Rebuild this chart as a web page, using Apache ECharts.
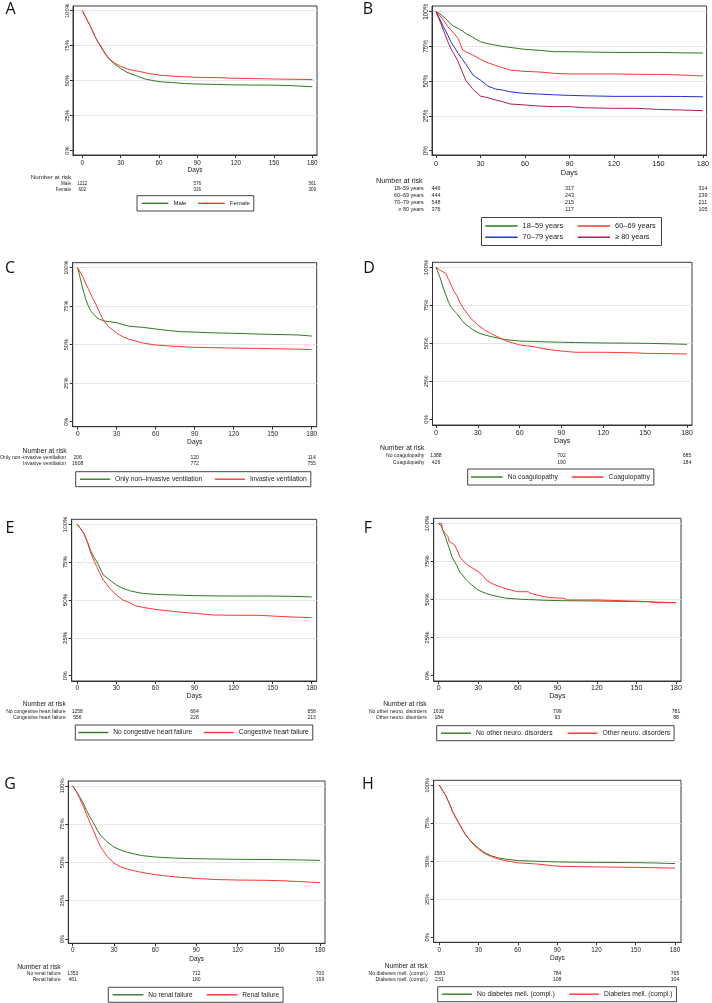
<!DOCTYPE html>
<html><head><meta charset="utf-8">
<script src="https://cdn.jsdelivr.net/npm/echarts@6/dist/echarts.min.js"></script>
<style>html,body{margin:0;padding:0;background:#fff}#c{width:712px;height:1003px}</style>
</head><body><div id="c"></div>
<script>
// ---------------- DATA ----------------
const dayTicks = [0, 30, 60, 90, 120, 150, 180];
const pctTicks = [0, 25, 50, 75, 100];
const riskDays = [0, 90, 180];

// A: sex
const daysA = [0,2,4,6,8,10,12,14,16,18,20,22,25,30,35,40,45,50,60,70,80,90,105,120,135,150,165,180];
const survMale   = [100,96.5,93,89.5,85.5,81.5,78,75,72,69,66.5,64.5,62,58.8,56,54.3,52.5,51,49.3,48.7,48,47.6,47.3,47,46.9,46.8,46.4,45.7];
const survFemale = [100,96.5,93,89.5,85.5,81.5,78,75.5,72.5,69.5,67,65,62.8,60.2,58.5,57.3,56.6,55.5,54,53.3,52.8,52.4,52.2,51.7,51.5,51.2,51,50.8];
const namesA = ['Male', 'Female'];
const riskA = [[1212, 576, 561], [602, 316, 309]];

// B: age groups
const daysB = [0,2,5,8,10,12,15,18,20,25,30,35,40,45,50,60,70,80,90,100,120,135,150,165,180];
const surv1859 = [100,99,96.4,93.5,91,89.5,88,86,84.4,81.5,78.4,77,76,75,74.3,72.9,72.2,71.2,71.2,71,70.7,70.7,70.7,70.4,70.3];
const surv6069 = [100,98,94,89.2,87,84.4,80.8,72.4,71.2,68.8,65.7,63.3,61.4,59.7,58,57.1,56.6,55.6,55.2,55.2,55.2,55,54.9,54.5,53.7];
const surv7079 = [100,96,89.2,83.2,78.4,75,70,65.5,62.4,54.4,50.8,46.5,44.4,43.6,42.4,41.2,40.7,40.2,39.8,39.5,39.1,39.1,39.1,39,38.8];
const surv80   = [100,95,86.8,78.4,73.6,70,64,56,50.8,44.1,39.3,38.1,36.5,35.3,33.6,32.9,32.1,31.7,31.7,30.9,30.5,30.5,29.7,29.3,28.8];
const namesB = ['18–59 years', '60–69 years', '70–79 years', '≥ 80 years'];
const riskB = [[446, 317, 314], [444, 243, 239], [548, 215, 211], [376, 117, 105]];

// C: ventilation
const daysC = [0,2,4,6,8,10,12,15,17,20,24,30,35,39,45,50,60,70,80,90,100,120,140,150,170,180];
const survNonInv = [100,93,86,80,75.5,72,70,67.5,66.5,65.5,65,64.3,63,62.1,61.6,61.3,60.2,59.2,58.4,58.2,57.8,57.4,56.9,56.7,56.3,55.6];
const survInv    = [100,97,94,90,86.5,83,79.5,74.5,70.5,65.5,61.5,57.6,55,53.7,52.3,51.1,49.8,49.2,48.7,48.3,48.1,47.8,47.6,47.4,47.1,46.8];
const namesC = ['Only non–invasive ventilation', 'Invasive ventilation'];
const riskC = [[206, 120, 114], [1608, 772, 755]];

// D: coagulopathy
const daysD = [0,3,5,7,9,11,13,15,17,20,25,30,35,40,45,50,60,70,80,90,100,120,140,150,165,180];
const survNoCoag = [100,93,87,82,77,73.5,71.5,69.5,67,63.5,59.9,57,55.5,54.3,53.3,52.4,51.5,51.2,50.9,50.7,50.5,50.2,50.1,50,49.7,49.3];
const survCoag   = [100,98,97,96,92,88,84,81.5,77,72.5,66.4,62,58.7,56.1,53.9,51.7,48.9,47.8,46,44.9,44.1,44.1,43.8,43.4,43.2,43];
const namesD = ['No coagulopathy', 'Coagulopathy'];
const riskD = [[1388, 702, 685], [426, 190, 184]];

// E: congestive heart failure
const daysE = [0,3,5,8,10,13,15,18,20,25,30,35,38,40,45,50,60,75,90,105,120,140,150,165,180];
const survNoCHF = [100,96.5,94,88,83,78,75.3,70,66.5,63.2,59.9,57.7,56.8,56.2,55.2,54.4,53.7,53.3,52.9,52.7,52.6,52.6,52.6,52.4,52];
const survCHF   = [100,96.5,94,87.5,81.9,75.5,72,66.5,63.2,57.7,53.3,50,48.9,48.3,46,45.2,43.8,42.3,41.2,40.1,39.9,39.9,39.4,38.8,38.3];
const namesE = ['No congestive heart failure', 'Congestive heart failure'];
const riskE = [[1258, 664, 658], [556, 228, 213]];

// F: other neurological disorders
const daysF = [0,2,3,5,7,8,10,12,14,16,18,20,22,25,30,33,36,40,45,50,55,60,68,70,75,80,85,95,97,120,146,160,165,180];
const survNoNeuro = [100,98,95.6,91.2,86,83.6,78.1,74.8,72,68,66.1,63.9,62,59.5,56.2,55,54,52.9,51.9,51,50.6,50.3,49.9,49.9,49.7,49.5,49.4,49.2,49.2,49,48.7,48.5,48.3,47.9];
const survNeuro   = [100,100,95.6,93.4,91.2,88,87,85.8,82.5,78.1,75.9,74,72.6,71,68.3,66.1,62.8,60.6,58.9,57.3,56.2,55.1,55.1,54,52.9,51.9,51.2,50.8,49.7,49.7,49,48.6,47.9,47.9];
const namesF = ['No other neuro. disorders', 'Other neuro. disorders'];
const riskF = [[1630, 799, 781], [184, 93, 88]];

// G: renal failure
const daysG = [0,3,5,8,10,13,15,18,20,25,30,35,40,45,50,60,75,90,105,120,140,150,165,180];
const survNoRenal = [100,96,93,88,84,79,76,71,68,63.5,60,58,56.5,55.5,54.5,53.5,52.8,52.4,52.2,52,51.9,51.8,51.6,51.3];
const survRenal   = [100,95.5,92,86,81.5,75,71,64.5,60.5,54,49.5,47,45.5,44.5,43.5,42,40.5,39.5,38.8,38.5,38.3,38.1,37.5,36.8];
const namesG = ['No renal failure', 'Renal failure'];
const riskG = [[1353, 712, 700], [461, 180, 169]];

// H: diabetes
const daysH = [0,3,5,8,10,13,15,18,20,25,30,35,40,45,50,60,75,90,105,120,140,150,165,180];
const survNoDiab = [100,96,93,87.5,83,78,75,70.5,67.5,62.5,58.5,55.5,53.5,52.3,51.5,50.5,50,49.6,49.4,49.3,49.2,49.1,48.9,48.5];
const survDiab   = [100,96,93,87.5,83,78,75,70.5,67.5,62,58,55,53,51.5,50.5,49,48.2,46.8,46.5,46.3,46.1,46,45.8,45.5];
const namesH = ['No diabetes mell. (compl.)', 'Diabetes mell. (compl.)'];
const riskH = [[1583, 784, 765], [231, 108, 104]];

// ---------------- STYLE / LAYOUT ----------------
const GREEN = '#2f7a22', RED = '#ff3535', BLUE = '#2232cf', CRIMSON = '#ad1f4d';
const FONT = '"Liberation Sans", Arial, sans-serif';
const INK = '#222';

const panels = [
  { letter: 'A', days: daysA, names: namesA, curves: [survMale, survFemale], colors: [GREEN, RED], risk: riskA,
    L: { box: [73, 6, 317, 155], x0: 82.3, x180: 312.3, y100: 10.7, y0: 150.7, letter: [10.5, 9.5], xFont: 6.3, yFont: 5.5, lblMargin: 5, nameGap: 11.7,
      title: [71, 177, 6.2], rows: [71, [184, 190], 4.6], legend: { box: [137, 195.7, 258, 211], pad: 4.7, lw: 26.7, gap: 11.7, font: 6 } } },
  { letter: 'B', days: daysB, names: namesB, curves: [surv1859, surv6069, surv7079, surv80], colors: [GREEN, RED, BLUE, CRIMSON], risk: riskB,
    L: { box: [432, 6, 709, 155], x0: 436, x180: 705.3, y100: 11.7, y0: 150.7, letter: [368, 9.5], xFont: 7.3, yFont: 6.3, lblMargin: 5.3, nameGap: 14,
      title: [422.7, 181.3, 7.2], rows: [423.7, [188.3, 195.3, 202.3, 209.3], 5.4],
      legend2: { box: [481, 217, 661, 245], rowsY: [226, 237.3], left: 485.3, lw: 32.3, gap: 14.5, font: 7.4 } } },
  { letter: 'C', days: daysC, names: namesC, curves: [survNonInv, survInv], colors: [GREEN, RED], risk: riskC,
    L: { box: [72.7, 262.7, 316.7, 426.7], x0: 77.7, x180: 311.7, y100: 267.7, y0: 421.7, letter: [10, 268.3], xFont: 6.5, yFont: 5.6, lblMargin: 4.1, nameGap: 11.7,
      title: [66.7, 451, 6.8], rows: [66, [457.7, 464], 5.1], legend: { box: [75.7, 471.7, 314, 486.7], pad: 4.3, lw: 30, gap: 12.7, font: 6.74 } } },
  { letter: 'D', days: daysD, names: namesD, curves: [survNoCoag, survCoag], colors: [GREEN, RED], risk: riskD,
    L: { box: [432.5, 262.3, 692, 425], x0: 436, x180: 687, y100: 267.3, y0: 419.3, letter: [369, 268.3], xFont: 7, yFont: 6, lblMargin: 4.2, nameGap: 12.3,
      title: [424.3, 448.3, 6.8], rows: [424.3, [456, 462.3], 5.1], legend: { box: [467.7, 469, 656, 485], pad: 3.3, lw: 31.7, gap: 14, font: 6.7 } } },
  { letter: 'E', days: daysE, names: namesE, curves: [survNoCHF, survCHF], colors: [GREEN, RED], risk: riskE,
    L: { box: [71.7, 519.3, 316.7, 681], x0: 77.3, x180: 311.7, y100: 524.3, y0: 675.7, letter: [10, 528.5], xFont: 6.5, yFont: 6.2, lblMargin: 4.1, nameGap: 11.4,
      title: [65.7, 704, 6.6], rows: [65.7, [711.3, 717.3], 5.0], legend: { box: [75.3, 725, 314.3, 740], pad: 3, lw: 30, gap: 11.7, font: 6.64 } } },
  { letter: 'F', days: daysF, names: namesF, curves: [survNoNeuro, survNeuro], colors: [GREEN, RED], risk: riskF,
    L: { box: [433.7, 518.3, 681, 681], x0: 438.7, x180: 676, y100: 523.3, y0: 675.7, letter: [368, 528.5], xFont: 7, yFont: 6.2, lblMargin: 4, nameGap: 12,
      title: [426.7, 704.3, 6.7], rows: [426.7, [711.3, 718], 5.1], legend: { box: [436.7, 725.7, 678.7, 740.7], pad: 4.3, lw: 30, gap: 15, font: 6.76 } } },
  { letter: 'G', days: daysG, names: namesG, curves: [survNoRenal, survRenal], colors: [GREEN, RED], risk: riskG,
    L: { box: [68.3, 781, 325, 943.3], x0: 72.7, x180: 320, y100: 785.8, y0: 939, letter: [10, 784], xFont: 6.3, yFont: 5.8, lblMargin: 4.2, nameGap: 12.4,
      title: [60.7, 966.7, 6.7], rows: [60.7, [974, 979.7], 5.0], legend: { box: [108.3, 987.3, 284, 1002.3], pad: 4.4, lw: 30.6, gap: 14, font: 6.55 } } },
  { letter: 'H', days: daysH, names: namesH, curves: [survNoDiab, survDiab], colors: [GREEN, RED], risk: riskH,
    L: { box: [433.7, 780.3, 681, 942.3], x0: 439.3, x180: 675, y100: 785.3, y0: 937.3, letter: [368, 784], xFont: 6.3, yFont: 5.8, lblMargin: 5, nameGap: 12,
      title: [427.7, 966, 6.6], rows: [427.7, [974, 979.3], 5.1], legend: { box: [437.7, 986.7, 679.3, 1001.7], pad: 4.3, lw: 30, gap: 14.4, font: 6.7 } } }
];

// ---------------- BUILD ----------------
const chart = echarts.init(document.getElementById('c'), null, { renderer: 'canvas' });
const grid = [], xAxis = [], yAxis = [], series = [], legend = [], graphic = [];

panels.forEach((p, i) => {
  const L = p.L;
  const [bl, bt, br, bb] = L.box;
  const ppd = (L.x180 - L.x0) / 180;
  const ppp = (L.y0 - L.y100) / 100;
  grid.push({ left: bl, top: bt, width: br - bl, height: bb - bt, show: true, borderColor: '#3c3c3c', borderWidth: 1, backgroundColor: '#fff' });
  xAxis.push({
    gridIndex: i, type: 'value',
    min: -(L.x0 - bl) / ppd, max: 180 + (br - L.x180) / ppd,
    axisLine: { onZero: false, lineStyle: { color: '#333', width: 1 } },
    axisTick: { customValues: dayTicks, length: 3, lineStyle: { color: '#333' } },
    axisLabel: { customValues: dayTicks, fontSize: L.xFont, fontFamily: FONT, color: INK, margin: L.lblMargin },
    splitLine: { show: false },
    name: 'Days', nameLocation: 'middle', nameGap: L.nameGap,
    nameTextStyle: { fontSize: L.xFont + 0.2, fontFamily: FONT, color: INK }
  });
  yAxis.push({
    gridIndex: i, type: 'value',
    min: -(bb - L.y0) / ppp, max: 100 + (L.y100 - bt) / ppp,
    axisLine: { onZero: false, lineStyle: { color: '#333', width: 1 } },
    axisTick: { customValues: pctTicks, length: 3, lineStyle: { color: '#333' } },
    axisLabel: { customValues: pctTicks, rotate: 90, formatter: '{value}%', fontSize: L.yFont, fontFamily: FONT, color: INK, margin: 3 },
    splitLine: { show: true, lineStyle: { color: ['rgba(0,0,0,0)', '#e6e6e6', '#e6e6e6', '#e6e6e6', '#e6e6e6'], width: 1 } }
  });
  p.curves.forEach((vals, k) => {
    series.push({
      type: 'line', name: p.names[k], xAxisIndex: i, yAxisIndex: i,
      data: p.days.map((d, j) => [d, vals[j]]),
      symbol: 'none', showSymbol: false, silent: true,
      lineStyle: { color: p.colors[k], width: 1 }, itemStyle: { color: p.colors[k] }
    });
  });
  if (L.legend) {
    const g = L.legend;
    const h = g.box[3] - g.box[1];
    const pv = (h - 9) / 2;
    legend.push({
      left: g.box[0], top: g.box[1], orient: 'horizontal', data: p.names,
      padding: [pv, 4, pv, g.pad], itemWidth: g.lw, itemHeight: 1.4, itemGap: g.gap, icon: 'rect',
      borderColor: '#444', borderWidth: 1, selectedMode: false,
      textStyle: { fontSize: g.font, fontFamily: FONT, color: INK, lineHeight: 9 }
    });
  } else if (L.legend2) {
    const g = L.legend2;
    [[0, 1], [2, 3]].forEach((pair, r) => {
      legend.push({
        left: g.left, top: g.rowsY[r] - 4.5, orient: 'horizontal', data: pair.map(j => p.names[j]),
        padding: 0, itemWidth: g.lw, itemHeight: 1.4, itemGap: g.gap, icon: 'rect', selectedMode: false,
        textStyle: { fontSize: g.font, fontFamily: FONT, color: INK, lineHeight: 9 }
      });
    });
    graphic.push({ type: 'rect', silent: true, shape: { x: g.box[0] + 0.5, y: g.box[1] + 0.5, width: g.box[2] - g.box[0], height: g.box[3] - g.box[1] },
      style: { fill: 'none', stroke: '#444', lineWidth: 1 } });
  }
  graphic.push({ type: 'text', silent: true, x: L.letter[0], y: L.letter[1],
    style: { text: p.letter, fontSize: 16, fontFamily: '"Open Sans", "Noto Sans", sans-serif', fill: '#111', align: 'center', verticalAlign: 'middle' } });
});

chart.setOption({ animation: false, backgroundColor: '#fff', grid, xAxis, yAxis, series, legend, graphic });

// risk table text (x positions via the axis scale)
const riskGraphic = graphic.slice();
panels.forEach((p, i) => {
  const L = p.L;
  riskGraphic.push({ type: 'text', silent: true, x: L.title[0], y: L.title[1],
    style: { text: 'Number at risk', fontSize: L.title[2], fontFamily: FONT, fill: INK, align: 'right', verticalAlign: 'middle' } });
  p.names.forEach((nm, k) => {
    const y = L.rows[1][k];
    riskGraphic.push({ type: 'text', silent: true, x: L.rows[0], y,
      style: { text: nm, fontSize: L.rows[2], fontFamily: FONT, fill: INK, align: 'right', verticalAlign: 'middle' } });
    riskDays.forEach((d, j) => {
      const px = chart.convertToPixel({ xAxisIndex: i }, d);
      riskGraphic.push({ type: 'text', silent: true, x: px, y,
        style: { text: String(p.risk[k][j]), fontSize: L.rows[2], fontFamily: FONT, fill: INK, align: 'center', verticalAlign: 'middle' } });
    });
  });
});
chart.setOption({ graphic: riskGraphic }, { replaceMerge: ['graphic'] });
</script></body></html>
